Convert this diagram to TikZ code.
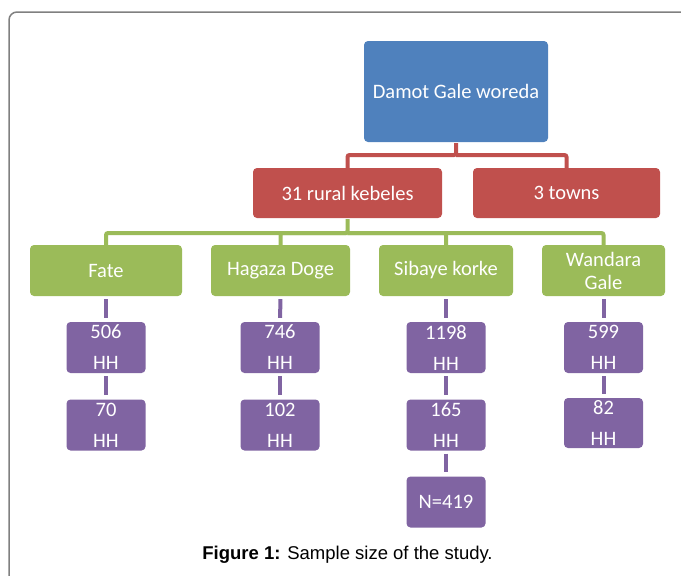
\documentclass[tikz,border=0pt]{standalone}
\usepackage{fontspec}
\setmainfont{Carlito}
\newfontfamily\captionfont{Liberation Sans}
\definecolor{woredablue}{HTML}{4F81BD}
\definecolor{kebelered}{HTML}{C0504D}
\definecolor{sitegreen}{HTML}{9BBB59}
\definecolor{hhpurple}{HTML}{8064A2}
\definecolor{framegray}{HTML}{808080}

\begin{document}
\begin{tikzpicture}[x=1pt, y=-1pt,
    box/.style={rounded corners=4, inner sep=0, text=white, align=center,
                font=\fontsize{20.5}{23}\selectfont, minimum height=51},
    woreda box/.style={box, fill=woredablue, minimum width=184, minimum height=101},
    kebele box/.style={box, fill=kebelered, minimum width=189, minimum height=50},
    site box/.style={box, fill=sitegreen},
    hh box/.style={box, fill=hhpurple, minimum width=79,
                   font=\fontsize{20.5}{31}\selectfont},
    link/.style={line width=4, rounded corners=2}]
      \useasboundingbox (0,0) rectangle (681,576);
      % frame
      \draw[framegray, line width=1.5, rounded corners=8] (9,577) |- (681,12);

      % top levels
      \node[woreda box] (woreda) at (456,91.5) {Damot Gale woreda};
      \node[kebele box] (rural) at (347.5,193) {31 rural kebeles};
      \node[kebele box, minimum width=187] (towns) at (566.5,193) {3 towns};

      % kebeles
      \node[site box, minimum width=152] (fate) at (106,270.5) {Fate};
      \node[site box, minimum width=139] (hagaza) at (280.5,270.5) {Hagaza Doge};
      \node[site box, minimum width=134] (sibaye) at (446,270.5) {Sibaye korke};
      \node[site box, minimum width=123] (wandara) at (603.5,270.5) {Wandara\\Gale};

      % households
      \node[hh box] (fateA) at (106,347.5) {506\\HH};
      \node[hh box] (fateB) at (106,425) {70\\HH};
      \node[hh box] (hagazaA) at (280,347.5) {746\\HH};
      \node[hh box] (hagazaB) at (280,425) {102\\HH};
      \node[hh box] (sibayeA) at (446,347.5) {1198\\HH};
      \node[hh box] (sibayeB) at (446,425) {165\\HH};
      \node[hh box] (total) at (446,502) {N=419};
      \node[hh box] (wandaraA) at (603.5,347.5) {599\\HH};
      \node[hh box, minimum height=50] (wandaraB) at (603.5,423) {82\\HH};

      % connectors
      \coordinate (redjoin) at (456,155);
      \coordinate (greenjoin) at (347.5,233);
      \draw[link, kebelered, shorten <=1] (woreda.south) -- (redjoin) -| (rural.north);
      \draw[link, kebelered] (redjoin) -| (towns.north);
      \draw[link, sitegreen, shorten <=1] (rural.south) -- (greenjoin) -| (fate.north);
      \foreach \s in {hagaza, sibaye, wandara}
        \draw[link, sitegreen] (greenjoin) -| (\s.north);
      \foreach \a/\b in {fate/fateA, fateA/fateB, hagaza/hagazaA, hagazaA/hagazaB,
                         sibaye/sibayeA, sibayeA/sibayeB, sibayeB/total,
                         wandara/wandaraA, wandaraA/wandaraB}
        \draw[link, hhpurple, shorten <=3, shorten >=4] (\a.south) -- (\b.north);

      \node[font=\captionfont\fontsize{18.5}{22}\selectfont] (caption) at (347.5,555)
        {\textbf{Figure 1:} Sample size of the study.};
\end{tikzpicture}
\end{document}
